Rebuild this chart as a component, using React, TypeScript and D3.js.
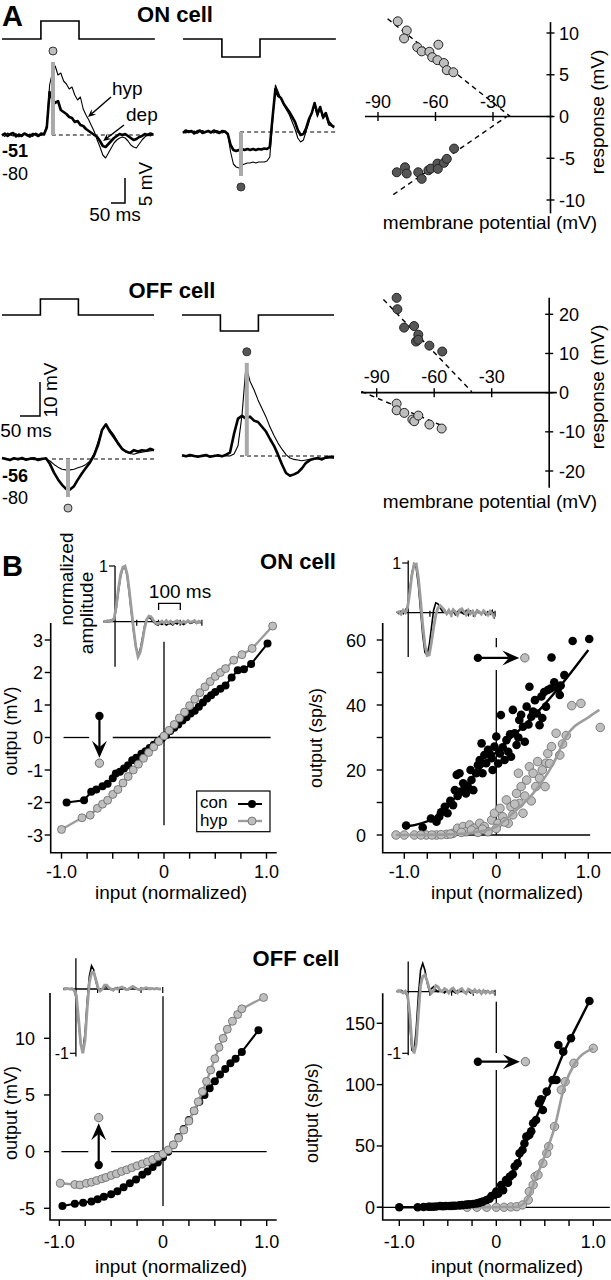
import { curveMonotoneX, line, scaleLinear } from 'd3'
import type { ScaleLinear } from 'd3'
import type { ReactNode } from 'react'

type Scale = ScaleLinear<number, number>

const FONT = '"Liberation Sans", Arial, Helvetica, sans-serif'
const LIGHT = '#bebebe'
const DARK = '#565656'
const GREY_LINE = '#9c9c9c'
const BAR = '#a9a9a9'

// ---------------- Panel A: voltage traces ----------------
// mV relative to the dashed resting level, one sample every 10 ms
const traceStep = 10
const onEndT = 546
const offEndT = 380

const onLeftHyp = [
  0.2, -0.3, 0.4, 0, -0.2, 0.3, -0.4, 0.1, 0.3, -0.2, 0.2, -0.3, 0.4, 0.1, -0.1, 0.2,
  2, 10, 12.5, 13.8, 12, 12.4, 10.8, 10.2, 9.2, 9.6, 8, 7, 7.6, 5.2, 4, 3, 1.8, 0.6, -1, -2.4,
  -4, -4.6, -3.6, -2.6, -1.6, -1, -0.6, -0.4, -0.6, -1.2, -2, -2.4, -2.6, -1.8, -1, -0.4, 0, -0.2, 0.2,
]
const onLeftDep = [
  -0.1, 0.3, -0.2, 0.2, 0.4, -0.3, 0.1, -0.2, 0.3, 0, -0.3, 0.2, 0.1, -0.2, 0.3, 0.1,
  1.5, 8.6, 7.2, 6.4, 6.8, 5, 4.6, 4.2, 3.6, 3.4, 2.6, 2.8, 2, 1.8, 1.2, 0.8, 0.4, 0, -0.4, -1.2,
  -2.2, -2.4, -1.8, -1.2, -0.6, -0.2, 0.2, 0, 0.2, -0.2, -0.6, -1, -0.8, -0.4, -0.2, 0.2, 0, 0.3, 0.1,
]
const onRightHyp = [
  0.1, -0.2, 0.3, 0, 0.2, -0.3, 0.1, 0.3, -0.1, 0.2, 0, -0.2, 0.3, 0.1, -0.2, 0,
  -0.5, -4, -6.4, -7, -7.2, -6.6, -6.4, -6.2, -6.2, -6, -6.2, -6, -6, -6, -5.8, -5, 2, 9.4, 8, 6.6,
  5.4, 4.4, 3.4, 2, 0.6, -1.2, -2, -1.6, 0.2, 2, 4, 5.4, 3, 4.8, 2.6, 3.4, 1.4, 1.2, 0.8,
]
const onRightDep = [
  -0.2, 0.3, 0, 0.2, -0.3, 0.1, 0.3, -0.2, 0, 0.2, -0.1, 0.3, 0, -0.2, 0.2, 0.1,
  -0.4, -2.6, -3.6, -3.8, -3.6, -3.4, -3.6, -3.4, -3.6, -3.4, -3.6, -3.4, -3.5, -3.3, -3.4, -3, 3, 8.6, 7.2, 6.8,
  5.6, 4.8, 4, 3, 2, 0.4, -0.6, -0.4, 0.8, 2.6, 3.8, 5.8, 3.6, 5, 3, 3.8, 2, 1.4, 1,
]
const offLeftHyp = [
  0.1, 0.2, -0.2, 0, 0.2, -0.1, 0.1, 0, -0.2, 0.1, 0.2, 0,
  -0.6, -1.6, -2.4, -3, -3.2, -3.2, -3, -2.6, -2.2, -1.6,
  -0.6, 1.6, 5, 8.6, 10, 8.6, 7, 5, 3.2, 2, 1.6, 1.4, 1.8, 2, 2.2, 2.4, 2.6,
]
const offLeftDep = [
  0.3, 0, -0.3, 0.2, -0.1, 0.3, -0.2, 0.1, 0.2, -0.3, 0, 0.2,
  -1.5, -4, -6, -7.6, -8.8, -9, -8, -6, -4.2, -2.6,
  -1, 1, 4, 8.5, 10.2, 8, 6.4, 4.6, 3, 2.2, 1.8, 2.6, 2.2, 2.6, 2.4, 3, 2.6,
]
const offRightHyp = [
  0, 0.1, -0.1, 0.2, 0, -0.2, 0.1, 0, 0.2, -0.1, 0, 0.1,
  0, 0.6, 3, 12, 26.5, 22, 19.5, 16.5, 14, 11.5,
  8.5, 6, 3.8, 2, 0.4, -0.6, -1, -1.2, -1.4, -1.2, -1, -0.8, -0.9, -0.6, -0.7, -0.5, -0.6,
]
const offRightDep = [
  0.2, -0.1, 0.3, 0, -0.2, 0.1, 0.3, -0.2, 0, 0.2, -0.1, 0.4,
  1, 6.5, 11, 11.8, 11, 11.6, 10.4, 10, 8.6, 7.2,
  5, 3, 0.4, -2.5, -5, -5.8, -5.4, -4.8, -3.6, -2, -1.2, -0.8, -0.6, -1, -0.4, -0.2, -0.4,
]

// light steps (ms, relative units)
const onStimT = [0, 139, 139, 275, 275, 546]
const offStimT = [0, 96, 96, 191, 191, 380]
const brightStim = [0, 0, 1, 1, 0, 0]
const darkStim = [0, 0, -1, -1, 0, 0]

// measurement windows (time, peak mV) and start of dashed rest line
const onPeakT = [182, 207]
const onPeakV = [14.6, -8.8]
const offPeakT = [165, 162]
const offPeakV = [-11.2, 27.4]
const onDashT = [178, 204]
const offDashT = [125, 145]

// ---------------- Panel A: response vs membrane potential ----------------
const ivXTicks = [-90, -60, -30]
const ivOnYTicks = [-10, -5, 0, 5, 10]
const ivOffYTicks = [-20, -10, 0, 10, 20]

const brightOnV = [-79.7, -75, -76.4, -69.5, -67.2, -63.2, -58.5, -61.7, -59, -55.6, -54.1, -50.7]
const brightOnR = [11.4, 10.3, 9.35, 8.3, 7.8, 7.75, 8.6, 7.1, 6.75, 6.4, 5.55, 5.3]
const darkOnV = [-80.2, -75.9, -75, -69, -67.2, -63.7, -62.5, -59, -58.8, -55.6, -54.1, -50.3]
const darkOnR = [-6.68, -6.08, -6.83, -6.68, -7.47, -6.44, -6.24, -5.64, -6.27, -5.55, -5.07, -3.84]
const brightOnFitV = [-85, -21]
const brightOnFitR = [11.7, 0]
const darkOnFitV = [-82, -22.8]
const darkOnFitR = [-9.35, 0]

const darkOffV = [-79.6, -79.2, -75.7, -70.5, -68.3, -69.5, -68.3, -62.5, -55.8]
const darkOffR = [24.2, 21.3, 16.6, 17.0, 14.8, 13.05, 13.5, 12.0, 10.5]
const brightOffV = [-79.6, -79.6, -75.6, -71.4, -70.4, -68.3, -62.5, -56.1]
const brightOffR = [-2.8, -4.5, -5.17, -6.87, -7.3, -5.85, -8.14, -9.16]
const darkOffFitV = [-86.5, -40.4]
const darkOffFitR = [23.8, 0.25]
const brightOffFitV = [-98, -56]
const brightOffFitR = [0.3, -8.4]

// ---------------- Panel B: linear filters (normalized), 10 ms steps ----------------
const kernelStep = 10
const kerOnMvHyp = [
  0, 0, 0.02, 0, 0.02, 0.06, 0.28, 0.6, 0.85, 0.98, 1.0, 0.85, 0.55, 0.2, -0.15, -0.45, -0.63, -0.55, -0.35, -0.12,
  0.04, 0.1, 0.09, 0.03, -0.02, -0.04, -0.02, 0.01, -0.03, 0.02, -0.02, 0.01, -0.03, 0, 0.02, -0.01, -0.02, 0.01,
  -0.02, 0.02, -0.01, 0, 0.02, -0.02, 0.01, -0.01,
]
const kerOnMvCon = [
  0, 0.01, 0, 0.02, 0.03, 0.05, 0.25, 0.56, 0.82, 0.96, 0.98, 0.82, 0.5, 0.15, -0.18, -0.45, -0.6, -0.5, -0.3, -0.08,
  0.05, 0.08, 0.05, 0, -0.04, -0.06, -0.03, -0.05, -0.02, -0.06, -0.04, -0.03, -0.06, -0.02, -0.04, 0, -0.03, -0.05,
  -0.02, 0.01, -0.03, -0.02, 0, -0.03, -0.01, -0.02,
]
const kerOnSpkHyp = [
  0, 0.02, -0.03, 0.05, 0, 0.1, 0.4, 0.75, 0.97, 0.98, 0.7, 0.25, -0.25, -0.65, -0.86, -0.85, -0.6, -0.3, -0.05, 0.1,
  0.14, 0.1, 0.04, -0.02, 0.05, -0.04, 0.06, 0.02, -0.05, 0.04, 0.08, 0.02, -0.04, 0.05, -0.02, 0.03, -0.05, 0.04,
  0.02, -0.03, 0.04, 0, -0.05, 0.03, -0.02, -0.1,
]
const kerOnSpkCon = [
  0.02, -0.02, 0.03, -0.02, 0.05, 0.12, 0.45, 0.8, 0.98, 0.9, 0.55, 0.05, -0.45, -0.8, -0.85, -0.65, -0.3, 0.05, 0.2, 0.18,
  0.1, 0.03, 0.06, -0.03, 0.04, -0.02, 0.05, -0.04, 0.02, 0.06, 0, -0.03, 0.04, -0.05, 0.03, 0, -0.04, 0.05,
  0, -0.02, 0.03, -0.04, 0.02, -0.03, 0.04, -0.12,
]
const kerOffMvHyp = [
  0, 0, 0.01, 0, 0, -0.02, -0.1, -0.45, -0.85, -1.0, -0.8, -0.3, 0.1, 0.25, 0.26, 0.15, 0.02, -0.03, 0, 0.06,
  0.06, 0.02, 0, -0.02, 0.01, 0, 0.02, 0.03, 0.01, -0.01, 0, 0.02, 0.04, 0.02, 0, -0.01, 0.01, 0,
  0.02, 0.01, 0, 0.01, 0, 0.01, 0, 0,
]
const kerOffMvCon = [
  0, 0.01, 0, 0, 0.01, -0.02, -0.15, -0.5, -0.85, -0.95, -0.7, -0.2, 0.2, 0.36, 0.3, 0.12, 0, -0.03, 0, 0.04,
  0.03, 0.01, -0.01, 0, 0.01, 0.02, 0, 0.01, 0.02, 0, -0.01, 0.01, 0.02, 0.01, 0, 0, 0.01, 0,
  0.01, 0, 0.01, 0, 0, 0.01, 0, 0,
]
const kerOffSpkHyp = [
  0, 0.02, 0, -0.02, 0.01, -0.05, -0.35, -0.85, -1.0, -0.85, -0.35, 0.1, 0.25, 0.27, 0.18, 0.05, -0.02, 0.02, 0.1, 0.08,
  0.02, 0, 0.05, 0.03, -0.02, 0.04, 0.06, 0.01, -0.02, 0.03, 0.05, 0, -0.03, 0.04, 0.02, -0.02, 0.03, -0.01,
  0.02, -0.03, 0.02, -0.02, 0.01, -0.02, 0, -0.03,
]
const kerOffSpkCon = [
  0, 0.01, 0.02, 0, -0.01, -0.08, -0.5, -0.95, -0.98, -0.6, -0.05, 0.35, 0.46, 0.35, 0.15, 0.02, 0.05, 0.08, 0.03, 0,
  0.03, 0.01, -0.02, 0.02, 0, 0.03, 0.01, -0.02, 0.02, 0, 0.02, -0.01, 0, 0.02, -0.02, 0.01, 0, -0.01,
  0.02, 0, -0.01, 0.01, 0, -0.01, 0.01, 0,
]

// ---------------- Panel B: static nonlinearities ----------------
const bXTicks = [-1, -0.75, -0.5, -0.25, 0, 0.25, 0.5, 0.75, 1]
const bXLabelAt = [-1, 0, 1]
const bXLabels = ['-1.0', '0', '1.0']

// ON cell, membrane potential (mV)
const onMvConX = [-0.95, -0.78, -0.71, -0.66, -0.6, -0.55, -0.5, -0.47, -0.43, -0.39, -0.35, -0.31, -0.27, -0.22, -0.18, -0.14, -0.1, -0.06, -0.02, 0.02, 0.06, 0.1, 0.14, 0.18, 0.22, 0.26, 0.3, 0.34, 0.38, 0.42, 0.46, 0.5, 0.55, 0.6, 0.66, 0.72, 0.78, 0.85, 1.01]
const onMvConY = [-2.0, -1.93, -1.67, -1.6, -1.5, -1.42, -1.25, -1.11, -1.05, -0.95, -0.85, -0.7, -0.62, -0.5, -0.42, -0.32, -0.22, -0.12, -0.03, 0.07, 0.2, 0.3, 0.4, 0.52, 0.62, 0.74, 0.82, 0.95, 1.08, 1.2, 1.3, 1.4, 1.5, 1.6, 1.85, 2.07, 2.1, 2.26, 2.89]
const onMvHypX = [-1.0, -0.8, -0.72, -0.65, -0.6, -0.55, -0.5, -0.45, -0.4, -0.35, -0.3, -0.25, -0.2, -0.15, -0.1, -0.05, 0, 0.05, 0.1, 0.15, 0.2, 0.25, 0.3, 0.35, 0.4, 0.45, 0.5, 0.55, 0.6, 0.68, 0.76, 0.86, 1.06]
const onMvHypY = [-2.83, -2.47, -2.39, -2.18, -2.05, -1.93, -1.75, -1.6, -1.4, -1.2, -1.0, -0.82, -0.64, -0.46, -0.29, -0.12, 0.05, 0.22, 0.4, 0.6, 0.78, 0.98, 1.18, 1.38, 1.56, 1.72, 1.88, 2.0, 2.12, 2.38, 2.55, 2.74, 3.43]
const onMvShiftX = [-0.63, -0.63]
const onMvShiftY = [0.66, -0.79]

// ON cell, firing rate (sp/s)
const onSpkConX = [-0.98, -0.8, -0.71, -0.65, -0.62, -0.56, -0.53, -0.47, -0.45, -0.43, -0.4, -0.4, -0.36, -0.33, -0.31, -0.27, -0.25, -0.22, -0.18, -0.16, -0.13, -0.11, -0.09, -0.05, -0.04, -0.02, 0, 0.04, 0.05, 0.09, 0.11, 0.13, 0.16, 0.18, 0.2, 0.22, 0.25, 0.29, 0.31, 0.33, 0.36, 0.38, 0.42, 0.44, 0.47, 0.49, 0.54, 0.56, 0.59, 0.6, 0.67, 0.69, 0.74, 0.83, 1.01, -0.6, -0.5, -0.42, -0.35, -0.28, -0.2, -0.15, -0.07, 0.02, 0.07, 0.15, 0.24, 0.27, 0.35, 0.4, 0.5, 0.52, 0.63, 0.7]
const onSpkConY = [2.9, 2.3, 5.1, 4.1, 5.6, 8.7, 6.7, 9.2, 13.8, 18.5, 19, 13.3, 15.9, 12.8, 14.9, 16.9, 13.8, 19, 23.1, 28.2, 24.6, 22.1, 26.2, 23.6, 20, 27.2, 30.3, 25.1, 36.9, 23.1, 29.2, 25.6, 24.1, 38.5, 31.3, 27.7, 35.4, 33.3, 28.7, 39.5, 45.6, 36.4, 41.5, 37.4, 33.8, 42.6, 39.5, 44.6, 45.1, 54.6, 45.1, 43.1, 49.2, 59.7, 60.3, 7, 10.5, 12, 14, 20, 21.5, 19, 25, 22, 27, 31, 30, 37, 34, 38, 36, 44, 47, 46]
const onSpkHypX = [-1.09, -0.89, -0.76, -0.65, -0.54, -0.47, -0.42, -0.36, -0.33, -0.29, -0.24, -0.18, -0.13, -0.09, -0.05, -0.02, 0.02, 0.04, 0.07, 0.11, 0.13, 0.16, 0.18, 0.22, 0.24, 0.25, 0.27, 0.29, 0.33, 0.36, 0.4, 0.43, 0.45, 0.53, 0.54, 0.56, 0.6, 0.65, 0.69, 0.76, 0.82, 0.92, 1.13, -1.0, -0.82, -0.7, -0.6, -0.5, -0.38, -0.27, -0.2, -0.15, 0, 0.09, 0.2, 0.31, 0.38, 0.47, 0.5, 0.58, 0.72]
const onSpkHypY = [0, 0, 0, 0, 0.2, 0.5, 2.1, 2.6, 1, 3.1, 2.1, 3.6, 2.6, 1, 4.6, 6.7, 3.6, 8.2, 5.6, 10.8, 3.6, 8.7, 6.2, 12.8, 19, 9.7, 14.9, 6.7, 16.9, 21, 19, 14.9, 22.6, 14.9, 22.1, 25.1, 27.2, 31.3, 24.6, 30.6, 39.8, 40.5, 33.1, 0, 0, 0, 0.1, 0.3, 0.8, 1.5, 0.8, 1.8, 2, 4, 9.5, 12, 10.5, 17.5, 20, 22, 28]
const onSpkConFitX = [-0.98, -0.69, -0.47, -0.25, 0, 0.25, 0.47, 0.72, 1.0]
const onSpkConFitY = [2.6, 5, 10.8, 18, 25.6, 32.3, 38.5, 46.7, 56.9]
const onSpkHypFitX = [-1.09, -0.5, -0.2, 0, 0.18, 0.4, 0.62, 0.76, 1.01, 1.12]
const onSpkHypFitY = [0, 0.2, 1, 2.6, 6.7, 12.8, 22, 30.3, 36.4, 38.5]
const onSpkShiftX = [-0.2, 0.31]
const onSpkShiftY = [54.5, 54.5]

// OFF cell, membrane potential (mV)
const offMvConX = [-0.97, -0.85, -0.77, -0.69, -0.63, -0.57, -0.5, -0.44, -0.38, -0.32, -0.26, -0.2, -0.15, -0.1, -0.05, 0, 0.05, 0.1, 0.15, 0.2, 0.25, 0.3, 0.35, 0.4, 0.45, 0.5, 0.55, 0.6, 0.65, 0.7, 0.76, 0.92]
const offMvConY = [-4.79, -4.6, -4.5, -4.41, -4.2, -3.97, -3.75, -3.5, -3.15, -2.8, -2.45, -2.05, -1.75, -1.35, -0.95, -0.5, 0.0, 0.6, 1.3, 2.0, 2.8, 3.6, 4.4, 5.0, 5.6, 6.2, 6.8, 7.3, 7.8, 8.2, 8.8, 10.7]
const offMvHypX = [-0.99, -0.85, -0.8, -0.74, -0.69, -0.64, -0.59, -0.55, -0.5, -0.45, -0.4, -0.35, -0.3, -0.25, -0.2, -0.15, -0.1, -0.05, 0, 0.05, 0.1, 0.15, 0.2, 0.25, 0.3, 0.34, 0.38, 0.42, 0.46, 0.5, 0.54, 0.58, 0.62, 0.67, 0.72, 0.76, 0.97]
const offMvHypY = [-2.79, -2.9, -2.94, -2.8, -2.7, -2.55, -2.4, -2.28, -2.1, -1.95, -1.75, -1.6, -1.42, -1.25, -1.08, -0.9, -0.7, -0.45, -0.2, 0.15, 0.6, 1.2, 1.9, 2.7, 3.6, 4.4, 5.3, 6.2, 7.2, 8.2, 9.2, 10.0, 10.8, 11.5, 12.1, 12.6, 13.6]
const offMvShiftX = [-0.62, -0.62]
const offMvShiftY = [-1.18, 3.0]

// OFF cell, firing rate (sp/s)
const offSpkConX = [-1.0, -0.81, -0.7, -0.65, -0.58, -0.52, -0.45, -0.38, -0.31, -0.24, -0.17, -0.1, -0.05, 0, 0.05, 0.1, 0.14, 0.19, 0.22, 0.24, 0.27, 0.31, 0.34, 0.38, 0.41, 0.44, 0.48, 0.52, 0.58, 0.62, 0.64, 0.69, 0.77, 0.96, -0.75, -0.68, -0.62, -0.55, -0.48, -0.42, -0.35, -0.28, -0.2, -0.14, -0.07, -0.02, 0.02, 0.07, 0.12, 0.17, 0.29, 0.36, 0.46]
const offSpkConY = [0, 0, 0.5, 0.5, 1, 1, 1.2, 1.6, 2.2, 2.7, 3.8, 6, 9.2, 12.8, 18.2, 22.3, 25, 33.2, 35.9, 44, 46.7, 57.6, 59, 68.5, 71.2, 84.8, 79.3, 94.3, 103.8, 103.8, 132.3, 126.9, 137.8, 168.2, 0.3, 0.4, 0.6, 0.8, 1.1, 1.3, 1.8, 2.4, 3.2, 4.6, 7, 10, 11, 14, 20, 27, 52, 62, 88]
const offSpkHypX = [-0.3, -0.2, -0.1, 0, 0.08, 0.15, 0.21, 0.27, 0.33, 0.34, 0.38, 0.4, 0.43, 0.48, 0.52, 0.54, 0.6, 0.67, 0.71, 0.8, 1.0]
const offSpkHypY = [0, 0, 0, 0, 0, 0.3, 0.5, 1.9, 6, 12.8, 18.2, 25, 26.4, 35.9, 44, 49.5, 65.8, 95.7, 102.4, 117.4, 129.6]
const offSpkConFitX = [-1.0, -0.5, -0.2, 0, 0.1, 0.2, 0.3, 0.4, 0.5, 0.6, 0.7, 0.8, 0.96]
const offSpkConFitY = [0, 0.5, 2.5, 11, 20, 33, 52, 71, 89, 108, 127, 143, 168]
const offSpkHypFitX = [-0.3, 0.2, 0.3, 0.4, 0.5, 0.6, 0.7, 0.8, 1.0]
const offSpkHypFitY = [0, 0.3, 4, 22, 42, 65, 98, 116, 129.6]
const offSpkShiftX = [-0.19, 0.3]
const offSpkShiftY = [118.7, 118.7]

// ---------------- helpers ----------------
type TxtProps = {
  x: number
  y: number
  children: ReactNode
  size?: number
  bold?: boolean
  anchor?: 'start' | 'middle' | 'end'
  rotate?: number
}

function Txt({ x, y, children, size = 18, bold = false, anchor = 'start', rotate = 0 }: TxtProps) {
  return (
    <text
      transform={`translate(${x},${y})${rotate ? ` rotate(${rotate})` : ''}`}
      fontFamily={FONT}
      fontSize={size}
      fontWeight={bold ? 700 : 400}
      textAnchor={anchor}
      fill="#000"
    >
      {children}
    </text>
  )
}

function pathOf(xs: number[], ys: number[], sx: Scale, sy: Scale, smooth = false) {
  const gen = line<number>()
    .x((i) => sx(xs[i]))
    .y((i) => sy(ys[i]))
  if (smooth) gen.curve(curveMonotoneX)
  return gen(xs.map((_, i) => i)) ?? ''
}

function Arrow({ x1, y1, x2, y2, len = 16, half = 7, width = 2 }: { x1: number; y1: number; x2: number; y2: number; len?: number; half?: number; width?: number }) {
  const a = Math.atan2(y2 - y1, x2 - x1)
  const ux = Math.cos(a)
  const uy = Math.sin(a)
  const bx = x2 - ux * len
  const by = y2 - uy * len
  const nx = -uy
  const ny = ux
  const kx = x2 - ux * len * 0.62
  const ky = y2 - uy * len * 0.62
  return (
    <g>
      <line x1={x1} y1={y1} x2={kx} y2={ky} stroke="#000" strokeWidth={width} />
      <path d={`M${x2},${y2}L${bx + nx * half},${by + ny * half}L${kx},${ky}L${bx - nx * half},${by - ny * half}Z`} fill="#000" />
    </g>
  )
}

type TraceSetProps = {
  x0: number
  base: number
  msPx: number
  mvPx: number
  endT: number
  thin: number[]
  thick: number[]
  stimT: number[]
  stim: number[]
  stimBase: number
  stimPx: number
  peakT: number
  peakV: number
  dashT: number
  dotFill: string
}

function TraceSet(p: TraceSetProps) {
  const tx = scaleLinear().domain([0, p.endT]).range([p.x0, p.x0 + p.endT * p.msPx])
  const vy = scaleLinear().domain([0, 1]).range([p.base, p.base - p.mvPx])
  const sy = scaleLinear().domain([0, 1]).range([p.stimBase, p.stimBase - p.stimPx])
  const tr = line<number>()
    .x((_, i) => tx(i * traceStep))
    .y((v) => vy(v))
  const st = line<number>()
    .x((_, i) => tx(p.stimT[i]))
    .y((v) => sy(v))
  const peakY = vy(p.peakV)
  const dotY = peakY + (p.peakV > 0 ? -11 : 11)
  return (
    <g>
      <path d={st(p.stim) ?? ''} fill="none" stroke="#000" strokeWidth={1.6} />
      <line x1={tx(p.dashT)} x2={tx(p.endT)} y1={vy(0)} y2={vy(0)} stroke="#000" strokeWidth={1.2} strokeDasharray="4 3" />
      <path d={tr(p.thick) ?? ''} fill="none" stroke="#000" strokeWidth={2.6} strokeLinejoin="round" />
      <path d={tr(p.thin) ?? ''} fill="none" stroke="#000" strokeWidth={1.1} strokeLinejoin="round" />
      <line x1={tx(p.peakT)} x2={tx(p.peakT)} y1={vy(0)} y2={peakY} stroke={BAR} strokeWidth={4} />
      <circle cx={tx(p.peakT)} cy={dotY} r={4} fill={p.dotFill} stroke="#333" strokeWidth={1} />
    </g>
  )
}

type IVProps = {
  sx: Scale
  sy: Scale
  xFrom: number
  xTo: number
  yTop: number
  yBottom: number
  yTicks: number[]
  labelGap: number
  titleY: number
  xTitleY: number
  children: ReactNode
}

function IVPanel(p: IVProps) {
  const { sx, sy } = p
  const y0 = sy(0)
  const x0 = sx(0)
  return (
    <g>
      <line x1={sx(p.xFrom)} x2={sx(p.xTo)} y1={y0} y2={y0} stroke="#000" strokeWidth={1.6} />
      <line x1={x0} x2={x0} y1={sy(p.yTop)} y2={sy(p.yBottom)} stroke="#000" strokeWidth={1.6} />
      {ivXTicks.map((t) => (
        <g key={t}>
          <line x1={sx(t)} x2={sx(t)} y1={y0 - 4.5} y2={y0 + 4.5} stroke="#000" strokeWidth={1.4} />
          <Txt x={sx(t)} y={y0 - p.labelGap} anchor="middle">{t}</Txt>
        </g>
      ))}
      {p.yTicks.map((t) => (
        <g key={t}>
          <line x1={x0 - 4} x2={x0 + 4} y1={sy(t)} y2={sy(t)} stroke="#000" strokeWidth={1.4} />
          <Txt x={559} y={sy(t) + 6.5}>{t}</Txt>
        </g>
      ))}
      <Txt x={604} y={p.titleY} rotate={-90} anchor="middle" size={19}>response (mV)</Txt>
      <Txt x={490} y={p.xTitleY} anchor="middle" size={19}>membrane potential (mV)</Txt>
      {p.children}
    </g>
  )
}

function Dots({ xs, ys, sx, sy, fill, stroke = '#222', r = 4.5, sw = 1 }: { xs: number[]; ys: number[]; sx: Scale; sy: Scale; fill: string; stroke?: string; r?: number; sw?: number }) {
  return (
    <g>
      {xs.map((x, i) => (
        <circle key={i} cx={sx(x)} cy={sy(ys[i])} r={r} fill={fill} stroke={stroke} strokeWidth={sw} />
      ))}
    </g>
  )
}

type FrameProps = {
  sx: Scale
  sy: Scale
  left: number
  top: number
  bottom: number
  right: number
  yTicks: number[]
  yLabels: number[]
  yLabelX: number
  xLabelBase: number
  xTitleX: number
  xTitleY: number
  yTitle: string
  yTitleX: number
  yTitleY: number
}

function Frame(p: FrameProps) {
  return (
    <g>
      <path d={`M${p.left},${p.top}V${p.bottom}H${p.right}`} fill="none" stroke="#000" strokeWidth={1.6} />
      {p.yTicks.map((t) => (
        <line key={t} x1={p.left - 6} x2={p.left} y1={p.sy(t)} y2={p.sy(t)} stroke="#000" strokeWidth={1.4} />
      ))}
      {p.yLabels.map((t) => (
        <Txt key={t} x={p.yLabelX} y={p.sy(t) + 6.5} anchor="end">{t}</Txt>
      ))}
      {bXTicks.map((t) => (
        <line key={t} x1={p.sx(t)} x2={p.sx(t)} y1={p.bottom} y2={p.bottom + 6} stroke="#000" strokeWidth={1.4} />
      ))}
      {bXLabels.map((lab, i) => (
        <Txt key={lab} x={p.sx(bXLabelAt[i])} y={p.xLabelBase} anchor="middle">{lab}</Txt>
      ))}
      <Txt x={p.xTitleX} y={p.xTitleY} anchor="middle" size={19}>input (normalized)</Txt>
      <Txt x={p.yTitleX} y={p.yTitleY} anchor="middle" size={18} rotate={-90}>{p.yTitle}</Txt>
    </g>
  )
}

function ZeroLines({ sx, sy, h, v }: { sx: Scale; sy: Scale; h: number[][]; v: number[][] }) {
  return (
    <g stroke="#000" strokeWidth={1.3}>
      {h.map(([a, b], i) => (
        <line key={`h${i}`} x1={sx(a)} x2={sx(b)} y1={sy(0)} y2={sy(0)} />
      ))}
      {v.map(([a, b], i) => (
        <line key={`v${i}`} x1={sx(0)} x2={sx(0)} y1={sy(a)} y2={sy(b)} />
      ))}
    </g>
  )
}

type KernelProps = {
  x0: number
  x1: number
  zeroY: number
  unitPx: number
  axisT: number
  vTop: number
  vBottom: number
  labelAmp: number
  con: number[]
  hyp: number[]
  children?: ReactNode
}

function Kernel(p: KernelProps) {
  const tx = scaleLinear().domain([0, 450]).range([p.x0, p.x1])
  const ay = scaleLinear().domain([0, 1]).range([p.zeroY, p.zeroY - p.unitPx])
  const k = line<number>()
    .x((_, i) => tx(i * kernelStep))
    .y((v) => ay(v))
  const ax = tx(p.axisT)
  return (
    <g>
      <line x1={tx(0)} x2={tx(450)} y1={ay(0)} y2={ay(0)} stroke="#000" strokeWidth={1.3} />
      <line x1={ax} x2={ax} y1={ay(p.vTop)} y2={ay(p.vBottom)} stroke="#000" strokeWidth={1.3} />
      {[100, 200, 300, 400].map((d) => (
        <line key={d} x1={tx(p.axisT + d)} x2={tx(p.axisT + d)} y1={ay(0) - 2} y2={ay(0) + 4} stroke="#000" strokeWidth={1.2} />
      ))}
      <line x1={ax - 6} x2={ax} y1={ay(p.labelAmp)} y2={ay(p.labelAmp)} stroke="#000" strokeWidth={1.2} />
      <Txt x={ax - 7} y={ay(p.labelAmp) + 6} anchor="end" size={16}>{p.labelAmp}</Txt>
      <path d={k(p.con) ?? ''} fill="none" stroke="#000" strokeWidth={1.6} />
      <path d={k(p.hyp) ?? ''} fill="none" stroke={GREY_LINE} strokeWidth={2.8} />
      {p.children}
    </g>
  )
}

function ShiftArrow({ xs, ys, sx, sy }: { xs: number[]; ys: number[]; sx: Scale; sy: Scale }) {
  const ax = sx(xs[0])
  const ay = sy(ys[0])
  const bx = sx(xs[1])
  const by = sy(ys[1])
  const d = Math.hypot(bx - ax, by - ay)
  const ex = bx - ((bx - ax) / d) * 5.5
  const ey = by - ((by - ay) / d) * 5.5
  return (
    <g>
      <Arrow x1={ax} y1={ay} x2={ex} y2={ey} len={17} half={7.5} width={2.2} />
      <circle cx={ax} cy={ay} r={4.2} fill="#000" />
      <circle cx={bx} cy={by} r={4.2} fill={LIGHT} stroke="#555" strokeWidth={0.8} />
    </g>
  )
}

// ---------------- figure ----------------
export default function App() {
  // panel A scales
  const ivOnX = scaleLinear().domain([-90, 0]).range([378, 550.5])
  const ivOnY = scaleLinear().domain([-10, 10]).range([200, 33])
  const ivOffX = scaleLinear().domain([-90, 0]).range([376.7, 549.2])
  const ivOffY = scaleLinear().domain([-20, 20]).range([471, 314.3])

  // panel B scales
  const onMvX = scaleLinear().domain([-1, 1]).range([61.5, 266.5])
  const onMvY = scaleLinear().domain([-3, 3]).range([835, 640])
  const onSpkX = scaleLinear().domain([-1, 1]).range([404.3, 588.3])
  const onSpkY = scaleLinear().domain([0, 60]).range([835, 640])
  const offMvX = scaleLinear().domain([-1, 1]).range([59.3, 266.7])
  const offMvY = scaleLinear().domain([-5, 10]).range([1208.3, 1038.3])
  const offSpkX = scaleLinear().domain([-1, 1]).range([399.3, 593.3])
  const offSpkY = scaleLinear().domain([0, 150]).range([1207.3, 1023.3])

  const onTx = (t: number) => 2 + t * 0.28
  const onVy = (v: number) => 135 - v * 5

  return (
    <svg width={611} height={1280} viewBox="0 0 611 1280" style={{ position: 'absolute', left: 0, top: 0 }}>
      <rect width={611} height={1280} fill="#fff" />

      {/* ---------- A ---------- */}
      <Txt x={2} y={26} size={29} bold>A</Txt>
      <Txt x={175} y={22} size={22} bold anchor="middle">ON cell</Txt>

      <TraceSet x0={2} base={135} msPx={0.28} mvPx={5} endT={onEndT} thin={onLeftHyp} thick={onLeftDep}
        stimT={onStimT} stim={brightStim} stimBase={39} stimPx={18} peakT={onPeakT[0]} peakV={onPeakV[0]}
        dashT={onDashT[0]} dotFill={LIGHT} />
      <TraceSet x0={183} base={132} msPx={0.28} mvPx={5} endT={onEndT} thin={onRightHyp} thick={onRightDep}
        stimT={onStimT} stim={darkStim} stimBase={39} stimPx={18} peakT={onPeakT[1]} peakV={onPeakV[1]}
        dashT={onDashT[1]} dotFill={DARK} />

      <Txt x={112} y={95} size={19}>hyp</Txt>
      <Txt x={126} y={121} size={19}>dep</Txt>
      <Arrow x1={111} y1={97} x2={onTx(307)} y2={onVy(3.6)} len={8} half={3.5} width={1.5} />
      <Arrow x1={124} y1={125} x2={onTx(361)} y2={onVy(-1.2)} len={8} half={3.5} width={1.5} />
      <Txt x={2} y={157} size={18} bold>-51</Txt>
      <Txt x={2} y={180} size={18}>-80</Txt>
      <path d={`M${125 - 50 * 0.28},203H125V${203 - 5 * 5}`} fill="none" stroke="#000" strokeWidth={1.5} />
      <Txt x={115} y={221} size={19} anchor="middle">50 ms</Txt>
      <Txt x={152} y={184} size={19} anchor="middle" rotate={-90}>5 mV</Txt>

      <IVPanel sx={ivOnX} sy={ivOnY} xFrom={-96.8} xTo={1.3} yTop={11.3} yBottom={-11.6} yTicks={ivOnYTicks}
        labelGap={9} titleY={112} xTitleY={229}>
        <path d={pathOf(brightOnFitV, brightOnFitR, ivOnX, ivOnY)} stroke="#000" strokeWidth={1.4} strokeDasharray="5 4" fill="none" />
        <path d={pathOf(darkOnFitV, darkOnFitR, ivOnX, ivOnY)} stroke="#000" strokeWidth={1.4} strokeDasharray="5 4" fill="none" />
        <Dots xs={brightOnV} ys={brightOnR} sx={ivOnX} sy={ivOnY} fill={LIGHT} />
        <Dots xs={darkOnV} ys={darkOnR} sx={ivOnX} sy={ivOnY} fill={DARK} />
      </IVPanel>

      <Txt x={172} y={298} size={22} bold anchor="middle">OFF cell</Txt>
      <TraceSet x0={2} base={459} msPx={0.4} mvPx={3.4} endT={offEndT} thin={offLeftHyp} thick={offLeftDep}
        stimT={offStimT} stim={brightStim} stimBase={315} stimPx={16} peakT={offPeakT[0]} peakV={offPeakV[0]}
        dashT={offDashT[0]} dotFill={LIGHT} />
      <TraceSet x0={182} base={456} msPx={0.4} mvPx={3.4} endT={offEndT} thin={offRightHyp} thick={offRightDep}
        stimT={offStimT} stim={darkStim} stimBase={315} stimPx={16} peakT={offPeakT[1]} peakV={offPeakV[1]}
        dashT={offDashT[1]} dotFill={DARK} />
      <Txt x={2} y={482} size={18} bold>-56</Txt>
      <Txt x={2} y={504} size={18}>-80</Txt>
      <path d={`M${40 - 50 * 0.4},416H40V${416 - 10 * 3.4}`} fill="none" stroke="#000" strokeWidth={1.5} />
      <Txt x={26} y={437} size={19} anchor="middle">50 ms</Txt>
      <Txt x={57} y={390} size={19} anchor="middle" rotate={-90}>10 mV</Txt>

      <IVPanel sx={ivOffX} sy={ivOffY} xFrom={-98.2} xTo={4} yTop={24.2} yBottom={-24.3} yTicks={ivOffYTicks}
        labelGap={10} titleY={387} xTitleY={508}>
        <path d={pathOf(darkOffFitV, darkOffFitR, ivOffX, ivOffY)} stroke="#000" strokeWidth={1.4} strokeDasharray="5 4" fill="none" />
        <path d={pathOf(brightOffFitV, brightOffFitR, ivOffX, ivOffY)} stroke="#000" strokeWidth={1.4} strokeDasharray="5 4" fill="none" />
        <Dots xs={darkOffV} ys={darkOffR} sx={ivOffX} sy={ivOffY} fill={DARK} />
        <Dots xs={brightOffV} ys={brightOffR} sx={ivOffX} sy={ivOffY} fill={LIGHT} />
      </IVPanel>

      {/* ---------- B ---------- */}
      <Txt x={2} y={576} size={29} bold>B</Txt>
      <Txt x={298} y={569} size={22} bold anchor="middle">ON cell</Txt>

      {/* ON, membrane potential */}
      <Frame sx={onMvX} sy={onMvY} left={50.7} top={623} bottom={852.7} right={276.7}
        yTicks={[-3, -2, -1, 0, 1, 2, 3]} yLabels={[-3, -2, -1, 0, 1, 2, 3]} yLabelX={43}
        xLabelBase={878} xTitleX={171} xTitleY={899} yTitle="outpu (mV)" yTitleX={17} yTitleY={731} />
      <ZeroLines sx={onMvX} sy={onMvY} h={[[-0.98, -0.73], [-0.5, 1.04]]} v={[[2.95, -2.7]]} />
      <path d={pathOf(onMvConX, onMvConY, onMvX, onMvY)} fill="none" stroke="#000" strokeWidth={2} />
      <Dots xs={onMvConX} ys={onMvConY} sx={onMvX} sy={onMvY} fill="#000" stroke="#000" r={4} sw={0} />
      <path d={pathOf(onMvHypX, onMvHypY, onMvX, onMvY)} fill="none" stroke={GREY_LINE} strokeWidth={2.4} />
      <Dots xs={onMvHypX} ys={onMvHypY} sx={onMvX} sy={onMvY} fill={LIGHT} stroke="#666" r={4} sw={0.8} />
      <ShiftArrow xs={onMvShiftX} ys={onMvShiftY} sx={onMvX} sy={onMvY} />
      <rect x={196.7} y={791} width={73.3} height={40.7} fill="#fff" stroke="#000" strokeWidth={1.2} />
      <Txt x={200} y={808} size={17}>con</Txt>
      <Txt x={200} y={826} size={17}>hyp</Txt>
      <line x1={238} x2={262} y1={804} y2={804} stroke="#000" strokeWidth={2} />
      <circle cx={252} cy={804} r={4} fill="#000" />
      <line x1={238} x2={262} y1={821} y2={821} stroke={GREY_LINE} strokeWidth={2.4} />
      <circle cx={252} cy={821} r={4} fill={LIGHT} stroke="#666" strokeWidth={0.8} />
      <Kernel x0={103.3} x1={201} zeroY={621.7} unitPx={55.7} axisT={54} vTop={1.0} vBottom={-0.81}
        labelAmp={1} con={kerOnMvCon} hyp={kerOnMvHyp}>
        <path d={`M158.6,610V603.3H180.3V610`} fill="none" stroke="#000" strokeWidth={1.3} />
        <Txt x={180} y={598} size={19} anchor="middle">100 ms</Txt>
      </Kernel>
      <Txt x={72.5} y={579} size={19} anchor="middle" rotate={-90}>normalized</Txt>
      <Txt x={93} y={613} size={19} anchor="middle" rotate={-90}>amplitude</Txt>

      {/* ON, spikes */}
      <Frame sx={onSpkX} sy={onSpkY} left={382.7} top={623} bottom={852.7} right={611}
        yTicks={[0, 10, 20, 30, 40, 50, 60]} yLabels={[0, 20, 40, 60]} yLabelX={366}
        xLabelBase={878} xTitleX={507} xTitleY={899} yTitle="output (sp/s)" yTitleX={322} yTitleY={738} />
      <ZeroLines sx={onSpkX} sy={onSpkY} h={[[-0.97, 1.02]]} v={[[0, 50.8], [57.8, 60.6]]} />
      <Dots xs={onSpkConX} ys={onSpkConY} sx={onSpkX} sy={onSpkY} fill="#000" stroke="#000" r={4.3} sw={0} />
      <Dots xs={onSpkHypX} ys={onSpkHypY} sx={onSpkX} sy={onSpkY} fill={LIGHT} stroke="#666" r={4.3} sw={0.8} />
      <path d={pathOf(onSpkConFitX, onSpkConFitY, onSpkX, onSpkY, true)} fill="none" stroke="#000" strokeWidth={2.4} />
      <path d={pathOf(onSpkHypFitX, onSpkHypFitY, onSpkX, onSpkY, true)} fill="none" stroke={GREY_LINE} strokeWidth={2.6} />
      <ShiftArrow xs={onSpkShiftX} ys={onSpkShiftY} sx={onSpkX} sy={onSpkY} />
      <Kernel x0={396.7} x1={494.4} zeroY={612.7} unitPx={49.7} axisT={53} vTop={1.05} vBottom={-0.89}
        labelAmp={1} con={kerOnSpkCon} hyp={kerOnSpkHyp} />

      {/* OFF, membrane potential */}
      <Txt x={296} y={966} size={22} bold anchor="middle">OFF cell</Txt>
      <Frame sx={offMvX} sy={offMvY} left={50} top={993} bottom={1220} right={276.7}
        yTicks={[-5, 0, 5, 10]} yLabels={[-5, 0, 5, 10]} yLabelX={35}
        xLabelBase={1248} xTitleX={171} xTitleY={1273} yTitle="output (mV)" yTitleX={17} yTitleY={1113} />
      <ZeroLines sx={offMvX} sy={offMvY} h={[[-0.98, -0.72], [-0.5, 1.0]]} v={[[-4.8, 13.7]]} />
      <path d={pathOf(offMvConX, offMvConY, offMvX, offMvY)} fill="none" stroke="#000" strokeWidth={2} />
      <Dots xs={offMvConX} ys={offMvConY} sx={offMvX} sy={offMvY} fill="#000" stroke="#000" r={4} sw={0} />
      <path d={pathOf(offMvHypX, offMvHypY, offMvX, offMvY)} fill="none" stroke={GREY_LINE} strokeWidth={2.4} />
      <Dots xs={offMvHypX} ys={offMvHypY} sx={offMvX} sy={offMvY} fill={LIGHT} stroke="#666" r={4} sw={0.8} />
      <ShiftArrow xs={offMvShiftX} ys={offMvShiftY} sx={offMvX} sy={offMvY} />
      <Kernel x0={63.3} x1={161} zeroY={989} unitPx={64.3} axisT={58} vTop={0.48} vBottom={-1.05}
        labelAmp={-1} con={kerOffMvCon} hyp={kerOffMvHyp} />

      {/* OFF, spikes */}
      <Frame sx={offSpkX} sy={offSpkY} left={382.7} top={993.3} bottom={1220} right={611}
        yTicks={[0, 50, 100, 150]} yLabels={[0, 50, 100, 150]} yLabelX={375}
        xLabelBase={1248} xTitleX={507} xTitleY={1273} yTitle="output (sp/s)" yTitleX={318} yTitleY={1113} />
      <ZeroLines sx={offSpkX} sy={offSpkY} h={[[-1.23, 1.17]]} v={[[0, 111.9], [125.7, 167.6]]} />
      <Dots xs={offSpkHypX} ys={offSpkHypY} sx={offSpkX} sy={offSpkY} fill={LIGHT} stroke="#666" r={4.2} sw={0.8} />
      <path d={pathOf(offSpkHypFitX, offSpkHypFitY, offSpkX, offSpkY, true)} fill="none" stroke={GREY_LINE} strokeWidth={2.6} />
      <Dots xs={offSpkConX} ys={offSpkConY} sx={offSpkX} sy={offSpkY} fill="#000" stroke="#000" r={4.3} sw={0} />
      <path d={pathOf(offSpkConFitX, offSpkConFitY, offSpkX, offSpkY, true)} fill="none" stroke="#000" strokeWidth={2.4} />
      <ShiftArrow xs={offSpkShiftX} ys={offSpkShiftY} sx={offSpkX} sy={offSpkY} />
      <Kernel x0={396.7} x1={494.4} zeroY={991.7} unitPx={61.6} axisT={53} vTop={0.49} vBottom={-1.03}
        labelAmp={-1} con={kerOffSpkCon} hyp={kerOffSpkHyp} />
    </svg>
  )
}
